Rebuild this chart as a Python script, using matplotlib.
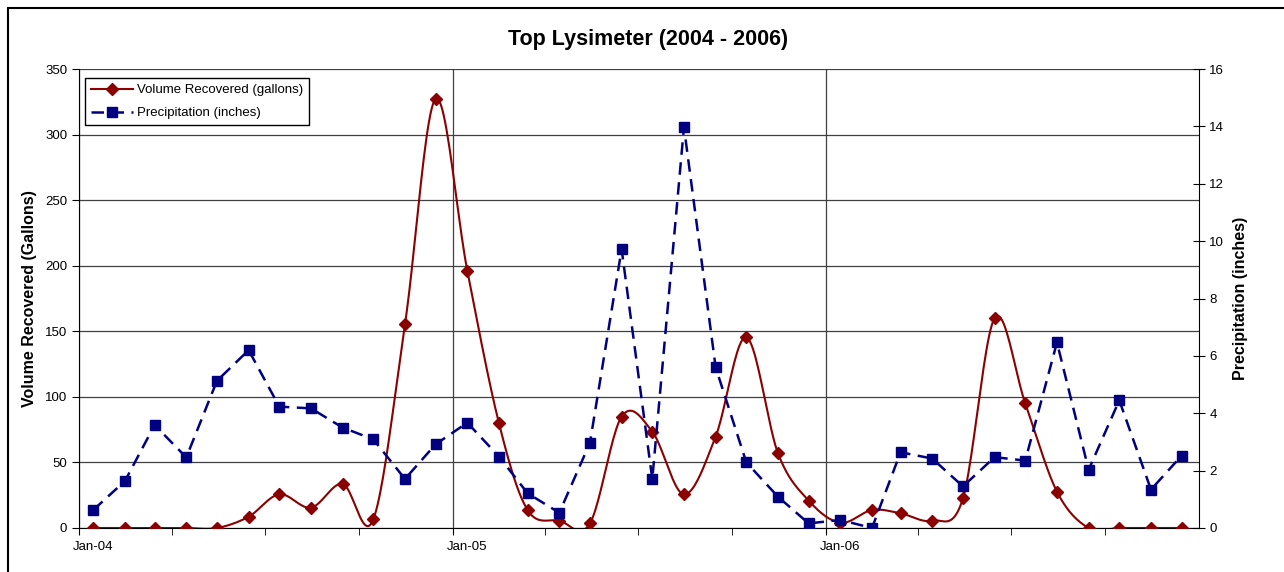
import numpy as np
import matplotlib
matplotlib.use('Agg')
import matplotlib.pyplot as plt
import matplotlib.dates as mdates
from matplotlib.patches import Rectangle
from matplotlib.transforms import ScaledTranslation
from datetime import datetime

plt.rcParams['font.family'] = ['Liberation Sans', 'DejaVu Sans']

# monthly readings, Jan 2004 - Dec 2006
months = [datetime(y, m, 15) for y in (2004, 2005, 2006) for m in range(1, 13)]

volume = [0, 0, 0, 0, 0, 8.6, 25.7, 15.5, 33.6, 6.6, 155.4, 327.2,
          196.2, 79.8, 13.7, 5.6, 3.6, 84.9, 73.5, 25.7, 69.7, 145.4, 57, 20.9,
          4, 13.7, 11.2, 5.6, 22.6, 160, 95.1, 27.7, 0, 0, 0, 0]

precip = [0.63, 1.64, 3.59, 2.46, 5.13, 6.2, 4.23, 4.17, 3.5, 3.09, 1.71, 2.92,
          3.67, 2.49, 1.21, 0.53, 2.97, 9.72, 1.70, 13.97, 5.6, 2.29, 1.09, 0.16,
          0.28, 0, 2.64, 2.42, 1.45, 2.47, 2.35, 6.47, 2.03, 4.45, 1.34, 2.52]

year_starts = [datetime(2004, 1, 1), datetime(2005, 1, 1), datetime(2006, 1, 1)]
x_end = datetime(2007, 1, 1)

RED = '#8B0000'
BLUE = '#000080'


def smooth(x, y, n=24):
    # excel-style smoothed line (catmull-rom bezier)
    x = np.asarray(x, float)
    y = np.asarray(y, float)
    px = np.concatenate([[x[0]], x, [x[-1]]])
    py = np.concatenate([[y[0]], y, [y[-1]]])
    t = np.linspace(0, 1, n)
    xs, ys = [], []
    for i in range(1, len(px) - 2):
        p0, p1, p2, p3 = px[i - 1], px[i], px[i + 1], px[i + 2]
        q0, q1, q2, q3 = py[i - 1], py[i], py[i + 1], py[i + 2]
        c1x, c1y = p1 + (p2 - p0) / 6, q1 + (q2 - q0) / 6
        c2x, c2y = p2 - (p3 - p1) / 6, q2 - (q3 - q1) / 6
        b = [(1 - t) ** 3, 3 * (1 - t) ** 2 * t, 3 * (1 - t) * t ** 2, t ** 3]
        xs.append(b[0] * p1 + b[1] * c1x + b[2] * c2x + b[3] * p2)
        ys.append(b[0] * q1 + b[1] * c1y + b[2] * c2y + b[3] * q2)
    return np.concatenate(xs), np.concatenate(ys)


fig = plt.figure(figsize=(12.84, 5.72), dpi=100)
ax = fig.add_axes([79 / 1284, 1 - 528 / 572, 1120 / 1284, 459 / 572])
ax2 = ax.twinx()

xnum = mdates.date2num(months)
sx, sy = smooth(xnum, volume)
ax.plot(sx, sy, color=RED, lw=1.5, zorder=3)
ax.plot(xnum, volume, ls='none', marker='D', ms=6, color=RED, zorder=4)
vol_handle, = ax.plot([], [], color=RED, lw=1.5, marker='D', ms=6)

ax2.plot(xnum, precip, color=BLUE, lw=1.8, dashes=(5, 3), marker='s', ms=7, zorder=3)

ax.set_ylim(0, 350)
ax.set_yticks(np.arange(0, 351, 50))
ax2.set_ylim(0, 16)
ax2.set_yticks(np.arange(0, 17, 2))
ax.set_xlim(mdates.date2num(year_starts[0]), mdates.date2num(x_end))

ax.set_xticks(mdates.date2num(year_starts))
ax.set_xticklabels([d.strftime('%b-%y') for d in year_starts])
ax.xaxis.set_minor_locator(mdates.MonthLocator(bymonth=[4, 7, 10]))

ax.grid(True, which='major', axis='both', color='#404040', lw=0.9)
ax.set_axisbelow(True)

for sp in ['top']:
    ax.spines[sp].set_visible(False)
    ax2.spines[sp].set_visible(False)
ax2.spines['left'].set_visible(False)
ax2.spines['bottom'].set_visible(False)
ax.spines['right'].set_visible(False)

ax.tick_params(axis='y', direction='out', length=5, labelsize=9.5, colors='black')
ax.tick_params(axis='x', which='both', direction='out', length=5, labelsize=9.5, pad=4)
ax2.tick_params(axis='y', direction='inout', length=8, labelsize=9.5)

# excel places date labels in the middle of the month
off = ScaledTranslation(14 / 100, 0, fig.dpi_scale_trans)
for lab in ax.get_xticklabels():
    lab.set_transform(lab.get_transform() + off)

ax.set_ylabel('Volume Recovered (Gallons)', fontsize=11.5, fontweight='bold')
ax.yaxis.set_label_coords(-42 / 1120, 0.5)
ax2.set_ylabel('Precipitation (inches)', fontsize=11.5, fontweight='bold')
ax2.yaxis.set_label_coords(1 + 34 / 1120, 0.5)

fig.text(0.505, 1 - 40 / 572, 'Top Lysimeter (2004 - 2006)', fontsize=15.5,
         fontweight='bold', ha='center', va='center')

prec_handle = ax2.get_lines()[0]
leg = ax2.legend([vol_handle, prec_handle],
                 ['Volume Recovered (gallons)', 'Precipitation (inches)'],
                 loc='upper left', bbox_to_anchor=(0.005, 0.98), borderaxespad=0,
                 fontsize=9.5, fancybox=False, edgecolor='black', framealpha=1,
                 handlelength=3.2, borderpad=0.45, labelspacing=0.8,
                 handletextpad=0.3)
leg.get_frame().set_linewidth(1.0)

fig.patches.append(Rectangle((8 / 1284, -0.1), 2, 1 - 7.5 / 572 + 0.1,
                             transform=fig.transFigure, fill=False,
                             edgecolor='black', lw=1.5))

fig.savefig('out.png', dpi=100)
